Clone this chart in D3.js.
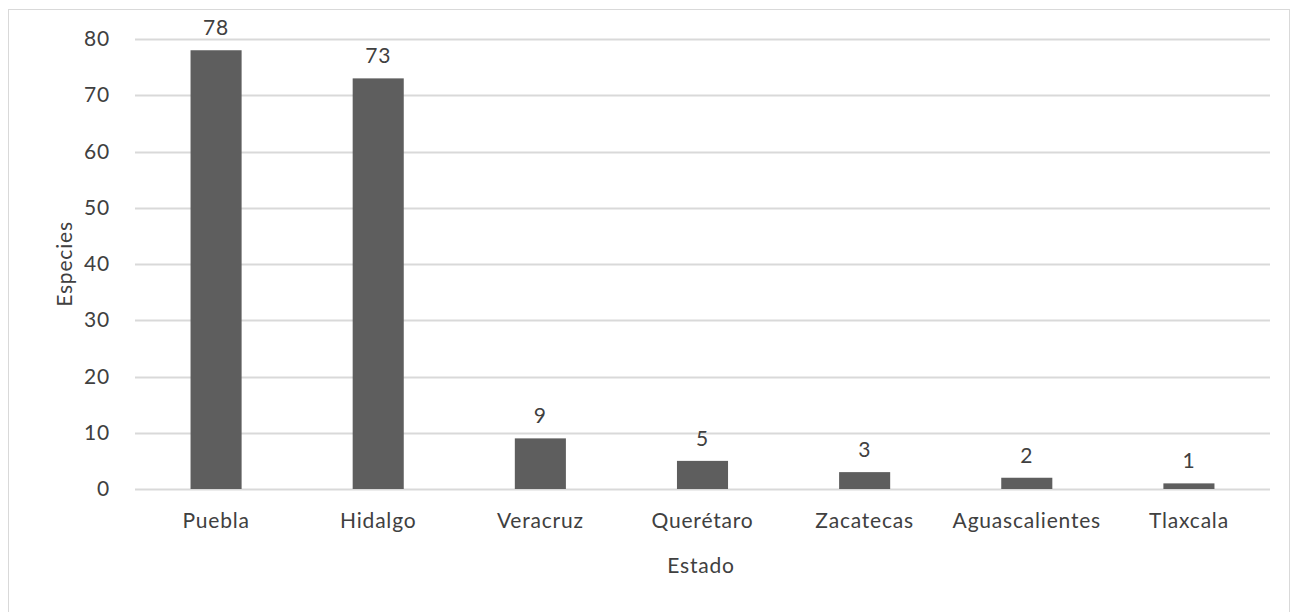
<!DOCTYPE html>
<html><head><meta charset="utf-8">
<script src="https://cdn.jsdelivr.net/npm/d3@7"></script>
<style>
body{margin:0;background:#fff;}
text{font-family:Lato,"Open Sans",sans-serif;fill:#404040;letter-spacing:0.8px;}
</style></head><body>
<svg id="c" width="1301" height="612"></svg>
<script>
const categories = ["Puebla","Hidalgo","Veracruz","Querétaro","Zacatecas","Aguascalientes","Tlaxcala"];
const values = [78,73,9,5,3,2,1];
const yTicks = [0,10,20,30,40,50,60,70,80];
const xTitle = "Estado";
const yTitle = "Especies";

const FS = 21;
const svg = d3.select("#c");
const m = {left:135,right:1270,top:39,bottom:489};
const x = d3.scaleBand().domain(categories).range([m.left,m.right]).paddingInner(0.685).paddingOuter(0.3425);
const y = d3.scaleLinear().domain([0,80]).range([m.bottom,m.top]);

svg.append("rect").attr("x",8.5).attr("y",9.5).attr("width",1281).attr("height",640)
  .attr("fill","#fff").attr("stroke","#d9d9d9");

svg.append("g").selectAll("line").data(yTicks).join("line")
  .attr("x1",m.left).attr("x2",m.right)
  .attr("y1",d=>Math.round(y(d))+0.5).attr("y2",d=>Math.round(y(d))+0.5)
  .attr("stroke","#d9d9d9").attr("stroke-width",2);

const yAxis = d3.axisLeft(y).tickValues(yTicks).tickSize(0).tickPadding(25);
const ya = svg.append("g").attr("transform",`translate(${m.left},0)`).call(yAxis);
ya.select(".domain").remove();
ya.selectAll("text").attr("font-size",FS).style("font-family","Lato").attr("fill","#404040");

svg.append("g").selectAll("rect").data(values).join("rect")
  .attr("x",(d,i)=>x(categories[i])).attr("width",x.bandwidth())
  .attr("y",d=>y(d)).attr("height",d=>y(0)-y(d)).attr("fill","#5e5e5e");

svg.append("g").selectAll("text").data(values).join("text")
  .attr("x",(d,i)=>x(categories[i])+x.bandwidth()/2).attr("y",d=>y(d)-15)
  .attr("text-anchor","middle").attr("font-size",FS).text(d=>d);

const xAxis = d3.axisBottom(x).tickSize(0).tickPadding(24);
const xa = svg.append("g").attr("transform",`translate(0,${m.bottom})`).call(xAxis);
xa.select(".domain").remove();
xa.selectAll("text").attr("font-size",FS).style("font-family","Lato").attr("fill","#404040");

svg.append("text").attr("x",701).attr("y",573).attr("text-anchor","middle").attr("font-size",FS).text(xTitle);
svg.append("text").attr("transform","translate(72,264) rotate(-90)").attr("text-anchor","middle").attr("font-size",FS).text(yTitle);
</script></body></html>
